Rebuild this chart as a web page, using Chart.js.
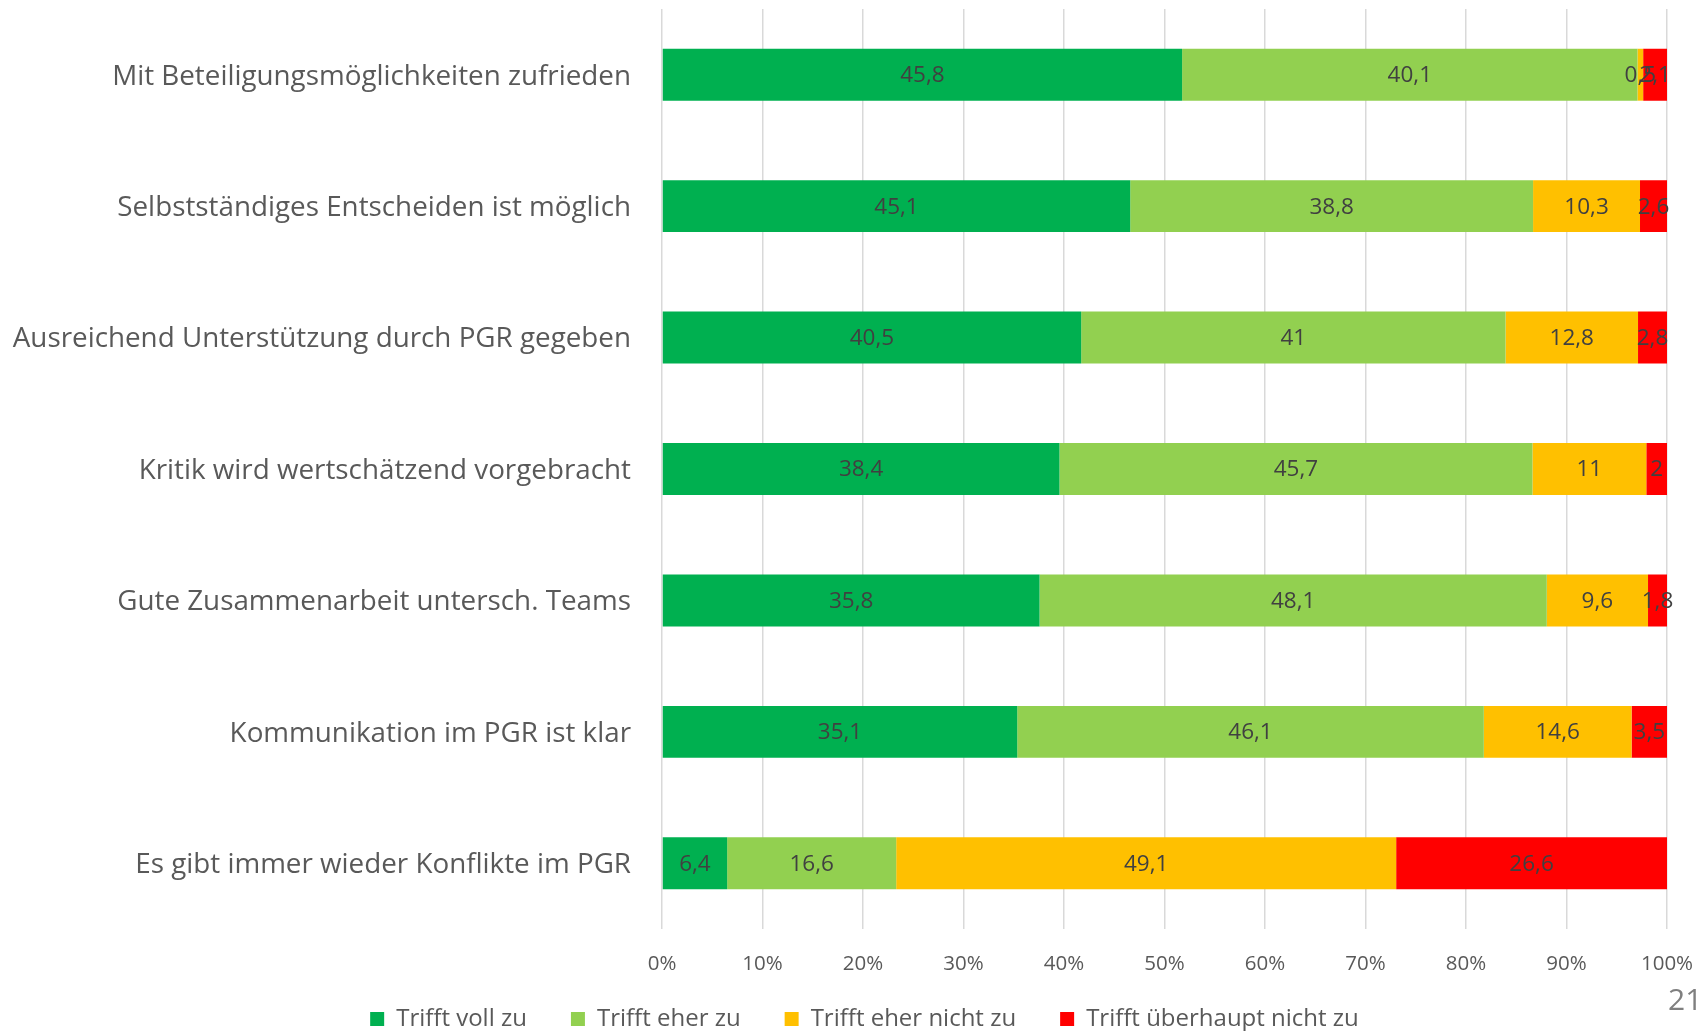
<!DOCTYPE html>
<html>
<head>
<meta charset="utf-8">
<script src="https://cdn.jsdelivr.net/npm/chart.js@4"></script>
<style>
  html, body { margin: 0; padding: 0; background: #fff; }
  #wrap { position: relative; width: 1698px; height: 1031px; overflow: hidden; }
  #pageNo { position: absolute; left: 1668px; top: 978px; font: 30px "Open Sans"; color: #7f7f7f; }
</style>
</head>
<body>
<div id="wrap">
  <canvas id="chart" width="1698" height="1031"></canvas>
  <div id="pageNo">21</div>
</div>
<script>
const categories = [
  "Mit Beteiligungsmöglichkeiten zufrieden",
  "Selbstständiges Entscheiden ist möglich",
  "Ausreichend Unterstützung durch PGR gegeben",
  "Kritik wird wertschätzend vorgebracht",
  "Gute Zusammenarbeit untersch. Teams",
  "Kommunikation im PGR ist klar",
  "Es gibt immer wieder Konflikte im PGR"
];
const seriesNames = ["Trifft voll zu", "Trifft eher zu", "Trifft eher nicht zu", "Trifft überhaupt nicht zu"];
const trifftVoll = [45.8, 45.1, 40.5, 38.4, 35.8, 35.1, 6.4];
const trifftEher = [40.1, 38.8, 41, 45.7, 48.1, 46.1, 16.6];
const eherNicht = [0.5, 10.3, 12.8, 11, 9.6, 14.6, 49.1];
const ueberhauptNicht = [2.1, 2.6, 2.8, 2, 1.8, 3.5, 26.6];
const colors = ["#00B050", "#92D050", "#FFC000", "#FF0000"];

const raw = [trifftVoll, trifftEher, eherNicht, ueberhauptNicht];
// 100% stacked: each row is scaled to its own sum
const rowSums = categories.map((c, i) => raw.reduce((s, arr) => s + arr[i], 0));

const FONT = "'Open Sans', sans-serif";

const barLabels = {
  id: "barLabels",
  afterDatasetsDraw(chart) {
    const ctx = chart.ctx;
    ctx.save();
    ctx.font = "22.5px " + FONT;
    ctx.fillStyle = "#404040";
    ctx.textAlign = "center";
    ctx.textBaseline = "middle";
    chart.data.datasets.forEach((ds, di) => {
      chart.getDatasetMeta(di).data.forEach((bar, i) => {
        const txt = String(ds.raw[i]).replace(".", ",");
        ctx.fillText(txt, (bar.x + bar.base) / 2, bar.y + 1);
      });
    });
    ctx.restore();
  }
};

// let the x tick labels reach below the axis box, and nudge the legend like the original
const boxTweak = {
  id: "boxTweak",
  afterLayout(chart) {
    chart.scales.x.bottom = chart.height;
    chart.legend.left += 31;
    chart.legend.right += 31;
    chart.legend.top += 2;
    chart.legend.bottom += 2;
  }
};

new Chart(document.getElementById("chart"), {
  type: "bar",
  data: {
    labels: categories,
    datasets: raw.map((arr, k) => ({
      label: seriesNames[k],
      raw: arr,
      data: arr.map((v, i) => v / rowSums[i] * 100),
      backgroundColor: colors[k],
      borderWidth: 0,
      categoryPercentage: 1,
      barPercentage: 0.395
    }))
  },
  options: {
    indexAxis: "y",
    responsive: false,
    animation: false,
    layout: { padding: { top: 9, right: 31, left: 0, bottom: -8 } },
    scales: {
      x: {
        stacked: true,
        min: 0,
        max: 100,
        ticks: {
          stepSize: 10,
          padding: 23,
          color: "#595959",
          font: { family: FONT, size: 20.5 },
          callback: v => v + "%"
        },
        grid: { color: "#d9d9d9", lineWidth: 1.5, drawTicks: false },
        border: { display: false },
        afterFit: s => { s.height = 32; s.paddingLeft = 0; s.paddingRight = 0; }
      },
      y: {
        stacked: true,
        ticks: {
          padding: 31,
          labelOffset: 2,
          color: "#595959",
          font: { family: FONT, size: 27.8 }
        },
        grid: { display: false, drawTicks: false },
        border: { display: false },
        afterFit: s => { s.width = 662; s.paddingTop = 0; s.paddingBottom = 0; }
      }
    },
    plugins: {
      legend: {
        position: "bottom",
        labels: {
          boxWidth: 14,
          boxHeight: 14,
          padding: 44,
          color: "#595959",
          font: { family: FONT, size: 24 }
        }
      },
      tooltip: { enabled: false }
    }
  },
  plugins: [barLabels, boxTweak]
});
</script>
</body>
</html>
